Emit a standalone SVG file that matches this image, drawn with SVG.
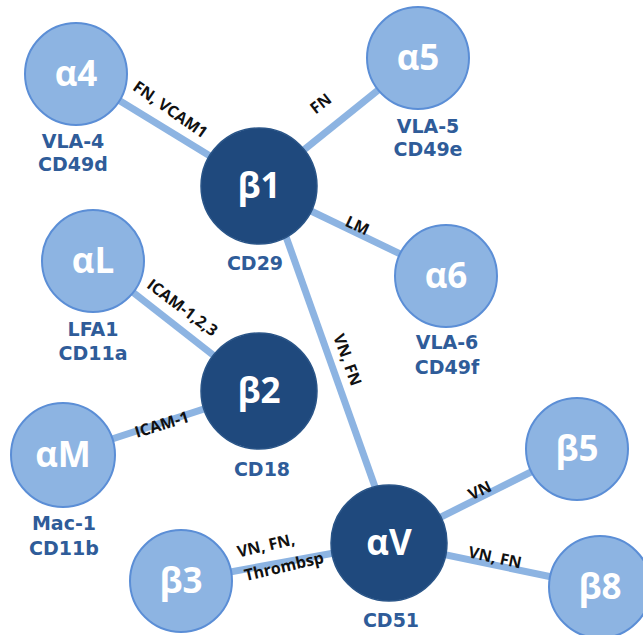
<svg xmlns="http://www.w3.org/2000/svg" width="643" height="635" viewBox="0 0 643 635">
<style>
.edge{stroke:#8db4e2;stroke-width:7;fill:none}
.lt{fill:#8db4e2;stroke:#5b8ed6;stroke-width:2}
.dk{fill:#1f497d;stroke:#2a5588;stroke-width:1.5}
.main{font-family:"Open Sans","Liberation Sans",sans-serif;font-weight:700;font-size:35px;fill:#ffffff;text-anchor:middle}
.sub{font-family:"DejaVu Sans","Liberation Sans",sans-serif;font-weight:700;font-size:19px;fill:#2f5c99;text-anchor:middle}
.lbl{font-family:"Open Sans","Liberation Sans",sans-serif;font-weight:700;font-size:16px;fill:#111111;text-anchor:middle}
</style>
<rect width="643" height="635" fill="#ffffff"/>
<g id="connectors">
<line class="edge" x1="76" y1="74" x2="259" y2="186"/>
<line class="edge" x1="259" y1="186" x2="418" y2="58"/>
<line class="edge" x1="259" y1="186" x2="446" y2="276"/>
<line class="edge" x1="268" y1="186" x2="395" y2="543"/>
<line class="edge" x1="93" y1="261" x2="259" y2="391"/>
<line class="edge" x1="63" y1="455" x2="259" y2="391"/>
<line class="edge" x1="181" y1="581" x2="389" y2="543"/>
<line class="edge" x1="389" y1="543" x2="577" y2="449"/>
<line class="edge" x1="389" y1="543" x2="600" y2="587"/>
<text class="lbl" transform="translate(170,110) rotate(35)" y="5">FN, VCAM1</text>
<text class="lbl" transform="translate(321,104) rotate(-38)" y="5">FN</text>
<text class="lbl" transform="translate(357,226) rotate(25)" y="5">LM</text>
<text class="lbl" transform="translate(347,360) rotate(70)" y="5">VN, FN</text>
<text class="lbl" transform="translate(182,308) rotate(37)" y="5">ICAM-1,2,3</text>
<text class="lbl" transform="translate(162,425) rotate(-17)" y="5">ICAM-1</text>
<text class="lbl" transform="translate(266,546) rotate(-13)" y="5">VN, FN,</text>
<text class="lbl" transform="translate(284,567) rotate(-13)" y="5">Thrombsp</text>
<text class="lbl" transform="translate(480,491) rotate(-25)" y="5">VN</text>
<text class="lbl" transform="translate(495,558) rotate(12)" y="5">VN, FN</text>
</g>
<g id="a4">
<circle class="lt" cx="76" cy="74" r="51"/>
<text class="main" x="76" y="86">α4</text>
<text class="sub" x="73" y="148">VLA-4</text>
<text class="sub" x="73" y="171">CD49d</text>
</g>
<g id="a5">
<circle class="lt" cx="418" cy="58" r="51"/>
<text class="main" x="418" y="70">α5</text>
<text class="sub" x="428" y="133">VLA-5</text>
<text class="sub" x="428" y="156">CD49e</text>
</g>
<g id="b1">
<circle class="dk" cx="259" cy="186" r="58"/>
<text class="main" x="259" y="198">β1</text>
<text class="sub" x="255" y="270">CD29</text>
</g>
<g id="a6">
<circle class="lt" cx="446" cy="276" r="51"/>
<text class="main" x="446" y="288">α6</text>
<text class="sub" x="447" y="349">VLA-6</text>
<text class="sub" x="447" y="374">CD49f</text>
</g>
<g id="aL">
<circle class="lt" cx="93" cy="261" r="51"/>
<text class="main" x="93" y="273">αL</text>
<text class="sub" x="93" y="336">LFA1</text>
<text class="sub" x="93" y="360">CD11a</text>
</g>
<g id="b2">
<circle class="dk" cx="259" cy="391" r="58"/>
<text class="main" x="259" y="403">β2</text>
<text class="sub" x="262" y="476">CD18</text>
</g>
<g id="aM">
<circle class="lt" cx="63" cy="455" r="52"/>
<text class="main" x="63" y="467">αM</text>
<text class="sub" x="64" y="530">Mac-1</text>
<text class="sub" x="64" y="555">CD11b</text>
</g>
<g id="b3">
<circle class="lt" cx="181" cy="581" r="51"/>
<text class="main" x="181" y="593">β3</text>
</g>
<g id="aV">
<circle class="dk" cx="389" cy="543" r="58"/>
<text class="main" x="389" y="555">αV</text>
<text class="sub" x="391" y="627">CD51</text>
</g>
<g id="b5">
<circle class="lt" cx="577" cy="449" r="51"/>
<text class="main" x="577" y="461">β5</text>
</g>
<g id="b8">
<circle class="lt" cx="600" cy="587" r="51"/>
<text class="main" x="600" y="599">β8</text>
</g>
</svg>
